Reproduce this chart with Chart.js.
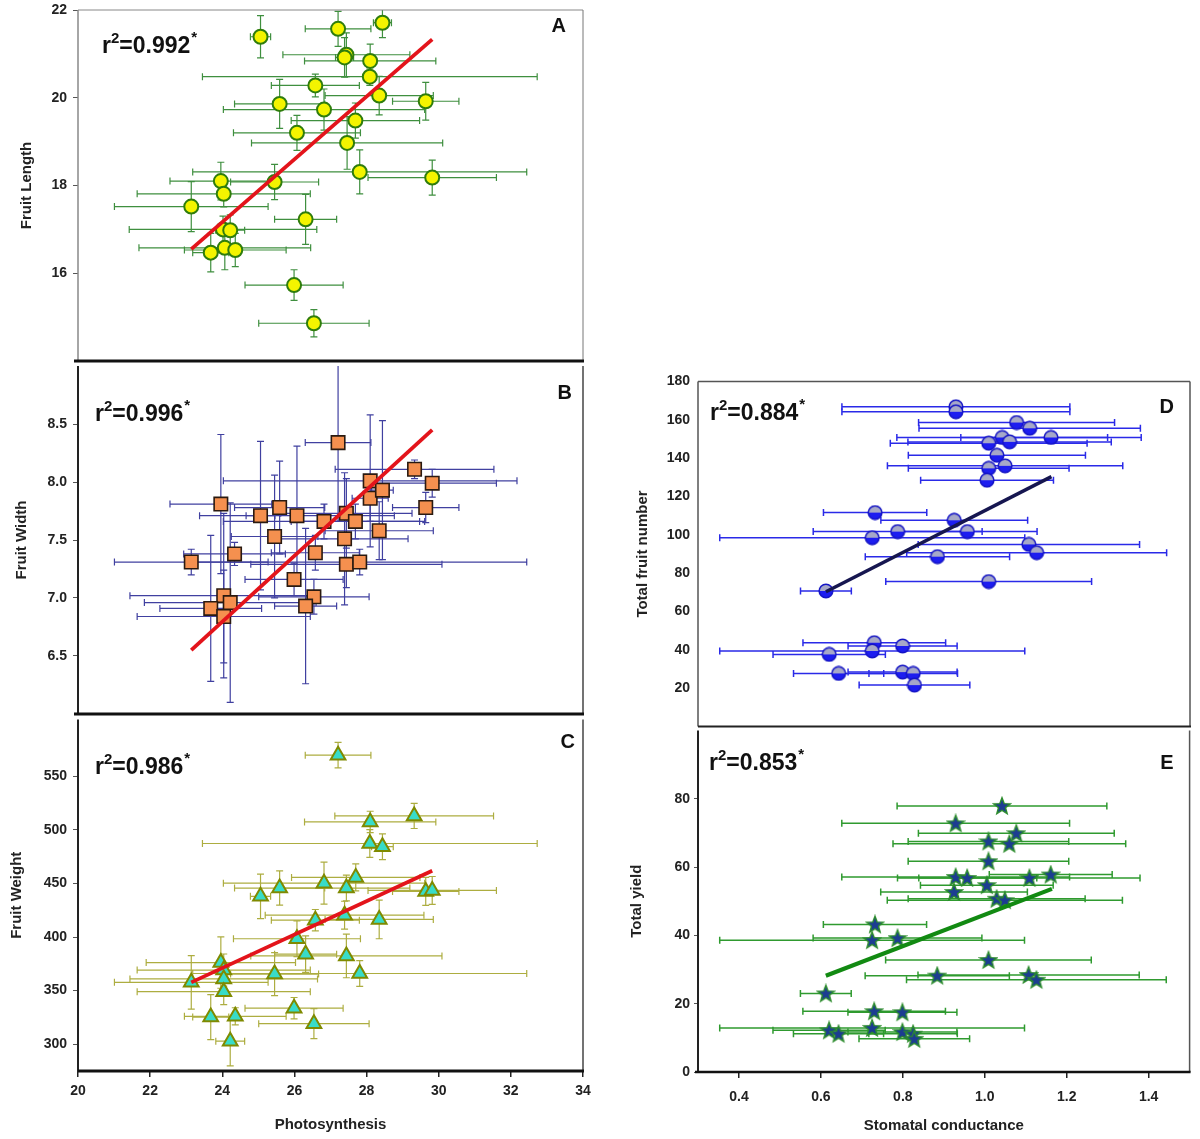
<!DOCTYPE html>
<html>
<head>
<meta charset="utf-8">
<title>Fruit traits vs photosynthesis and stomatal conductance</title>
<script src="https://cdn.jsdelivr.net/npm/chart.js@4.4.1/dist/chart.umd.min.js"></script>
<style>
    html, body { margin: 0; padding: 0; background: #fff; }
    #page { position: relative; width: 1200px; height: 1139px; overflow: hidden; }
    #page canvas { position: absolute; }
</style>
</head>
<body>
<div id="page">
    <canvas id="chartA" width="600" height="370" style="left:0;top:0"></canvas>
    <canvas id="chartB" width="600" height="370" style="left:0;top:355px"></canvas>
    <canvas id="chartC" width="600" height="430" style="left:0;top:709px"></canvas>
    <canvas id="chartD" width="600" height="362" style="left:600px;top:373px"></canvas>
    <canvas id="chartE" width="600" height="419" style="left:600px;top:720px"></canvas>
</div>
<script>
// ---- Data ----

// A: fruit length vs photosynthesis
const aPhoto     = [25.06, 27.21, 28.44, 27.44, 27.39, 28.10, 28.09, 26.58, 28.35, 29.64, 25.59, 26.82, 27.69, 26.07, 27.46, 27.81, 29.82, 23.96, 25.45, 24.04, 23.14, 26.31, 24.02, 24.22, 24.07, 23.68, 24.36, 25.99, 26.54];
const aLength    = [21.39, 21.57, 21.71, 20.98, 20.92, 20.84, 20.48, 20.28, 20.05, 19.92, 19.86, 19.73, 19.48, 19.20, 18.97, 18.31, 18.18, 18.10, 18.08, 17.81, 17.52, 17.23, 17.00, 16.98, 16.58, 16.47, 16.53, 15.73, 14.86];
const aPhotoErr  = [0.28, 0.91, 0.25, 1.76, 0.25, 1.82, 4.64, 1.22, 1.50, 0.92, 1.25, 2.79, 1.78, 1.76, 2.65, 4.63, 1.78, 1.41, 1.22, 2.40, 2.13, 0.86, 2.60, 0.40, 2.38, 0.50, 1.41, 1.36, 1.53];
const aLengthErr = [0.48, 0.40, 0.34, 0.50, 0.45, 0.38, 0.20, 0.26, 0.44, 0.43, 0.56, 0.47, 0.40, 0.40, 0.60, 0.50, 0.40, 0.43, 0.40, 0.30, 0.57, 0.57, 0.30, 0.35, 0.50, 0.44, 0.38, 0.35, 0.31];
const aFitX = [23.14, 29.82];
const aFitY = [16.55, 21.33];

// B: fruit width vs photosynthesis
const bPhoto    = [27.21, 23.96, 25.06, 25.59, 26.07, 26.82, 27.44, 27.69, 28.10, 28.10, 28.44, 29.33, 29.82, 29.64, 28.35, 25.45, 27.39, 24.34, 26.58, 23.14, 27.44, 27.81, 25.99, 24.04, 24.22, 26.54, 26.31, 23.68, 24.04];
const bWidth    = [8.34, 7.81, 7.71, 7.78, 7.71, 7.66, 7.73, 7.66, 8.01, 7.86, 7.93, 8.11, 7.99, 7.78, 7.58, 7.53, 7.51, 7.38, 7.39, 7.31, 7.29, 7.31, 7.16, 7.02, 6.96, 7.01, 6.93, 6.91, 6.84];
const bPhotoErr = [0.91, 1.41, 0.40, 1.25, 2.70, 2.79, 1.82, 1.78, 4.07, 0.50, 0.30, 2.20, 1.78, 0.92, 1.50, 1.20, 1.76, 1.41, 1.22, 2.13, 2.65, 4.63, 1.36, 2.60, 2.38, 1.53, 0.86, 1.41, 2.40];
const bWidthErr = [0.68, 0.60, 0.64, 0.40, 0.60, 0.15, 0.30, 0.15, 0.57, 0.20, 0.60, 0.08, 0.12, 0.13, 0.25, 0.53, 0.57, 0.10, 0.15, 0.11, 0.20, 0.11, 0.14, 0.71, 0.86, 0.15, 0.67, 0.63, 0.40];
const bFitX = [23.14, 29.82];
const bFitY = [6.55, 8.45];

// C: fruit weight vs photosynthesis
const cPhoto     = [27.21, 29.32, 28.10, 28.09, 28.44, 27.70, 26.82, 25.59, 27.44, 25.06, 29.64, 29.82, 27.39, 26.58, 28.35, 26.07, 26.31, 27.44, 23.96, 24.04, 25.45, 27.81, 23.14, 24.04, 24.04, 25.99, 23.68, 24.36, 26.54, 24.22];
const cWeight    = [569.7, 513.0, 507.4, 487.3, 484.3, 455.6, 450.3, 445.7, 445.7, 438.0, 442.6, 443.5, 420.4, 415.7, 416.4, 398.4, 384.0, 382.4, 376.2, 369.2, 365.4, 366.0, 357.7, 360.9, 349.0, 333.6, 325.3, 326.0, 319.2, 302.8];
const cPhotoErr  = [0.91, 2.20, 1.82, 4.64, 0.30, 1.78, 2.79, 1.25, 1.76, 0.28, 0.92, 1.78, 2.20, 1.22, 1.50, 1.76, 0.86, 2.65, 2.07, 2.40, 1.22, 4.63, 2.13, 2.60, 2.40, 1.36, 0.50, 1.41, 1.53, 0.40];
const cWeightErr = [11.9, 11.7, 10.0, 13.0, 12.0, 12.6, 19.6, 16.0, 12.0, 20.8, 13.0, 13.0, 13.0, 10.0, 18.0, 16.7, 17.0, 20.4, 24.0, 15.0, 20.0, 12.0, 25.0, 12.0, 12.0, 10.0, 21.0, 8.0, 14.0, 23.0];
const cFitX = [23.14, 29.82];
const cFitY = [357.7, 461.8];

// D: total fruit number vs stomatal conductance
const dStomata    = [0.929, 0.929, 1.077, 1.109, 1.161, 1.042, 1.060, 1.009, 1.029, 1.049, 1.009, 1.005, 0.732, 0.925, 0.787, 0.957, 0.725, 1.107, 1.126, 0.884, 1.009, 0.612, 0.730, 0.799, 0.725, 0.620, 0.643, 0.799, 0.825, 0.828];
const dFruitNo    = [166.8, 164.2, 158.6, 155.6, 150.8, 150.8, 148.5, 147.8, 141.5, 136.0, 134.7, 128.5, 111.6, 107.6, 101.7, 101.7, 98.5, 95.0, 90.7, 88.6, 75.6, 70.7, 43.7, 42.0, 39.4, 37.6, 27.7, 28.4, 27.7, 21.6];
const dStomataErr = [0.278, 0.278, 0.239, 0.270, 0.220, 0.257, 0.248, 0.240, 0.216, 0.287, 0.196, 0.162, 0.126, 0.179, 0.206, 0.170, 0.372, 0.270, 0.317, 0.176, 0.251, 0.062, 0.174, 0.133, 0.372, 0.137, 0.110, 0.133, 0.108, 0.135];
const dFitX = [0.612, 1.162];
const dFitY = [70.3, 130.4];

// E: total yield vs stomatal conductance
const eStomata    = [1.042, 0.929, 1.077, 1.009, 1.060, 1.009, 0.929, 0.957, 1.109, 1.161, 1.005, 0.925, 1.029, 1.049, 0.732, 0.725, 0.787, 1.009, 0.884, 1.107, 1.126, 0.612, 0.730, 0.799, 0.725, 0.620, 0.643, 0.799, 0.825, 0.828];
const eYield      = [77.9, 72.8, 69.9, 67.5, 66.8, 61.7, 57.1, 56.8, 56.8, 57.8, 54.7, 52.7, 50.7, 50.3, 43.2, 38.6, 39.2, 32.8, 28.2, 28.4, 27.0, 23.0, 17.8, 17.5, 12.9, 12.2, 11.2, 11.7, 11.2, 9.7];
const eStomataErr = [0.256, 0.278, 0.239, 0.196, 0.284, 0.196, 0.278, 0.170, 0.270, 0.150, 0.162, 0.179, 0.216, 0.287, 0.126, 0.372, 0.206, 0.251, 0.176, 0.270, 0.317, 0.062, 0.174, 0.133, 0.372, 0.137, 0.110, 0.133, 0.108, 0.135];
const eFitX = [0.612, 1.164];
const eFitY = [28.2, 53.6];

// Tick labels
const photoTicks   = [20, 22, 24, 26, 28, 30, 32, 34];
const stomataTicks = [0.4, 0.6, 0.8, 1.0, 1.2, 1.4];
const lengthTicks  = [16, 18, 20, 22];
const widthTicks   = [6.5, 7.0, 7.5, 8.0, 8.5];
const weightTicks  = [300, 350, 400, 450, 500, 550];
const fruitNoTicks = [20, 40, 60, 80, 100, 120, 140, 160, 180];
const yieldTicks   = [0, 20, 40, 60, 80];

const FONT = '"Liberation Sans", Arial, Helvetica, sans-serif';
Chart.defaults.font.family = FONT;

const toPoints = (xs, ys) => xs.map((x, i) => ({ x, y: ys[i] }));

// Error bars are drawn under the markers, clipped to the plot box
const errorBars = {
    id: 'errorBars',
    beforeDatasetsDraw(chart) {
        const { ctx, chartArea: a, scales: { x, y } } = chart;
        const cap = 3.5;
        ctx.save();
        ctx.beginPath();
        ctx.rect(a.left, a.top, a.right - a.left, a.bottom - a.top);
        ctx.clip();
        chart.data.datasets.forEach(ds => {
            if (!ds.errX) return;
            ctx.strokeStyle = ds.errColor;
            ctx.lineWidth = ds.errWidth;
            ds.data.forEach((p, i) => {
                const px = x.getPixelForValue(p.x);
                const py = y.getPixelForValue(p.y);
                const ex = ds.errX[i] || 0;
                const ey = ds.errY ? ds.errY[i] || 0 : 0;
                ctx.beginPath();
                if (ex) {
                    const x0 = x.getPixelForValue(p.x - ex), x1 = x.getPixelForValue(p.x + ex);
                    ctx.moveTo(x0, py); ctx.lineTo(x1, py);
                    ctx.moveTo(x0, py - cap); ctx.lineTo(x0, py + cap);
                    ctx.moveTo(x1, py - cap); ctx.lineTo(x1, py + cap);
                }
                if (ey) {
                    const y0 = y.getPixelForValue(p.y - ey), y1 = y.getPixelForValue(p.y + ey);
                    ctx.moveTo(px, y0); ctx.lineTo(px, y1);
                    ctx.moveTo(px - cap, y0); ctx.lineTo(px + cap, y0);
                    ctx.moveTo(px - cap, y1); ctx.lineTo(px + cap, y1);
                }
                ctx.stroke();
            });
        });
        ctx.restore();
    }
};

// Plot box edges: thin grey frame, heavy black separators / axes
const frame = {
    id: 'frame',
    afterDraw(chart, args, o) {
        const { ctx, chartArea: a } = chart;
        const line = (side, x0, y0, x1, y1) => {
            if (!side) return;
            ctx.beginPath();
            ctx.lineWidth = side[0];
            ctx.strokeStyle = side[1];
            ctx.moveTo(x0, y0);
            ctx.lineTo(x1, y1);
            ctx.stroke();
        };
        ctx.save();
        line(o.top, a.left, a.top, a.right, a.top);
        line(o.right, a.right, a.top, a.right, a.bottom);
        line(o.left, a.left, a.top, a.left, a.bottom);
        line(o.bottom, a.left - (o.overhang || 0), a.bottom, a.right + 1, a.bottom);
        ctx.restore();
    }
};

// r² label and panel letter
const panelText = {
    id: 'panelText',
    afterDraw(chart, args, o) {
        const { ctx, chartArea: a } = chart;
        ctx.save();
        ctx.fillStyle = '#111';
        ctx.textBaseline = 'alphabetic';
        let x = a.left + o.dx;
        const y = a.top + o.dy;
        ctx.font = 'bold 23px ' + FONT;
        ctx.fillText('r', x, y);
        x += ctx.measureText('r').width;
        ctx.font = 'bold 15px ' + FONT;
        ctx.fillText('2', x, y - 10);
        x += ctx.measureText('2').width;
        ctx.font = 'bold 23px ' + FONT;
        const txt = '=' + o.r2;
        ctx.fillText(txt, x, y);
        x += ctx.measureText(txt).width;
        ctx.font = 'bold 15px ' + FONT;
        ctx.fillText('*', x + 1, y - 11);
        ctx.font = 'bold 20px ' + FONT;
        ctx.textAlign = 'right';
        ctx.fillText(o.letter, a.right - o.lx, a.top + o.ly);
        ctx.restore();
    }
};

// Custom markers for D (half shaded circle) and E (filled star)
function halfCircle() {
    const c = document.createElement('canvas');
    c.width = c.height = 16;
    const g = c.getContext('2d');
    g.beginPath(); g.arc(8, 8, 6.8, 0, Math.PI * 2);
    g.fillStyle = '#1d1df0'; g.fill();
    g.beginPath(); g.arc(8, 8, 6.8, Math.PI, 0); g.closePath();
    g.fillStyle = '#a6a8c8'; g.fill();
    g.beginPath(); g.arc(8, 8, 6.8, 0, Math.PI * 2);
    g.lineWidth = 1.5; g.strokeStyle = '#1414c4'; g.stroke();
    return c;
}

function star() {
    const c = document.createElement('canvas');
    c.width = c.height = 20;
    const g = c.getContext('2d');
    g.beginPath();
    for (let i = 0; i < 10; i++) {
        const r = i % 2 ? 3.7 : 8.8;
        const ang = -Math.PI / 2 + i * Math.PI / 5;
        g.lineTo(10 + r * Math.cos(ang), 10.6 + r * Math.sin(ang));
    }
    g.closePath();
    g.fillStyle = '#1c3c92'; g.fill();
    g.lineWidth = 1.4; g.strokeStyle = '#2c8c2c'; g.stroke();
    return c;
}

function makePanel(id, p) {
    const tickFont = { size: 14, weight: 'bold' };
    const titleFont = { size: 15, weight: 'bold' };
    return new Chart(document.getElementById(id), {
        type: 'scatter',
        data: {
            datasets: [
                {
                    type: 'line',
                    data: toPoints(p.fitX, p.fitY),
                    borderColor: p.fitColor,
                    borderWidth: p.fitWidth,
                    pointRadius: 0,
                    fill: false
                },
                {
                    data: toPoints(p.x, p.y),
                    errX: p.xErr,
                    errY: p.yErr,
                    errColor: p.errColor,
                    errWidth: p.errWidth,
                    pointStyle: p.pointStyle,
                    pointRadius: p.radius,
                    backgroundColor: p.fill,
                    borderColor: p.stroke,
                    borderWidth: p.strokeWidth
                }
            ]
        },
        options: {
            responsive: false,
            animation: false,
            layout: { padding: p.padding },
            plugins: {
                legend: { display: false },
                tooltip: { enabled: false },
                frame: p.frame,
                panelText: p.text
            },
            scales: {
                x: {
                    type: 'linear',
                    min: p.xMin,
                    max: p.xMax,
                    display: p.showX,
                    afterBuildTicks: s => { s.ticks = p.xTicks.map(v => ({ value: v })); },
                    // fixed box size, and no label overhang pushing the plot box around
                    afterFit: s => {
                        s.height = p.showX ? p.xHeight : 0;
                        s.paddingLeft = 0;
                        s.paddingRight = 0;
                    },
                    grid: { drawOnChartArea: false, tickLength: 6, color: '#222', lineWidth: 1.5 },
                    border: { display: false },
                    ticks: { font: tickFont, color: '#222', padding: p.xPad, maxRotation: 0, callback: p.xFmt },
                    title: { display: true, text: p.xTitle, font: titleFont, color: '#222', padding: { top: 0, bottom: p.xTitlePad } }
                },
                y: {
                    type: 'linear',
                    min: p.yMin,
                    max: p.yMax,
                    afterBuildTicks: s => { s.ticks = p.yTicks.map(v => ({ value: v })); },
                    afterFit: s => {
                        s.width = p.yWidth;
                        s.paddingTop = 0;
                        s.paddingBottom = 0;
                    },
                    grid: { drawOnChartArea: false, drawTicks: p.yTickLen > 0, tickLength: p.yTickLen, color: '#555' },
                    border: { display: false },
                    ticks: { font: tickFont, color: '#222', padding: p.yPad, callback: p.yFmt },
                    title: { display: true, text: p.yTitle, font: titleFont, color: '#222', padding: { top: p.yTitlePad, bottom: 0 } }
                }
            }
        },
        plugins: [errorBars, frame, panelText]
    });
}

const int = v => String(v);
const oneDec = v => v.toFixed(1);

const photoAxis = { xMin: 20, xMax: 34, xTicks: photoTicks, xFmt: int, xTitle: 'Photosynthesis', xPad: 6, xTitlePad: 5, yWidth: 78, yTickLen: 5, yPad: 6 };
const stomaAxis = { xMin: 0.3, xMax: 1.5, xTicks: stomataTicks, xFmt: oneDec, xTitle: 'Stomatal conductance', xPad: 11, xTitlePad: 4, yWidth: 98 };
const redFit = { fitColor: '#e3141b', fitWidth: 3.8 };

makePanel('chartA', Object.assign({}, photoAxis, redFit, {
    x: aPhoto, y: aLength, xErr: aPhotoErr, yErr: aLengthErr, fitX: aFitX, fitY: aFitY,
    yMin: 14, yMax: 22, yTicks: lengthTicks, yFmt: int, yTitle: 'Fruit Length', yTitlePad: 18,
    showX: false, padding: { top: 10, right: 17, bottom: 8, left: 0 },
    pointStyle: 'circle', radius: 7, fill: '#f4f400', stroke: '#2f7d0c', strokeWidth: 2,
    errColor: '#3f8f3f', errWidth: 1.2,
    frame: { top: [1, '#888'], right: [1, '#777'], left: [1.5, '#888'], bottom: [3, '#111'], overhang: 4 },
    text: { r2: '0.992', letter: 'A', dx: 24, dy: 43, lx: 17, ly: 22 }
}));

makePanel('chartB', Object.assign({}, photoAxis, redFit, {
    x: bPhoto, y: bWidth, xErr: bPhotoErr, yErr: bWidthErr, fitX: bFitX, fitY: bFitY,
    yMin: 6, yMax: 9, yTicks: widthTicks, yFmt: oneDec, yTitle: 'Fruit Width', yTitlePad: 13,
    showX: false, padding: { top: 8, right: 17, bottom: 8, left: 0 },
    pointStyle: 'rect', radius: 9.5, fill: '#f5904f', stroke: '#2a1a10', strokeWidth: 1.6,
    errColor: '#4040a0', errWidth: 1.2,
    frame: { right: [1.5, '#444'], left: [2, '#222'], bottom: [3, '#111'], overhang: 4 },
    text: { r2: '0.996', letter: 'B', dx: 17, dy: 55, lx: 11, ly: 33 }
}));

makePanel('chartC', Object.assign({}, photoAxis, redFit, {
    x: cPhoto, y: cWeight, xErr: cPhotoErr, yErr: cWeightErr, fitX: cFitX, fitY: cFitY,
    yMin: 275, yMax: 603, yTicks: weightTicks, yFmt: int, yTitle: 'Fruit Weight', yTitlePad: 8,
    showX: true, xHeight: 68, padding: { top: 8, right: 17, bottom: 0, left: 0 },
    pointStyle: 'triangle', radius: 8.5, fill: '#38dcc8', stroke: '#7f8a00', strokeWidth: 2,
    errColor: '#adad40', errWidth: 1.2,
    frame: { right: [1.5, '#444'], left: [2, '#222'], bottom: [3, '#111'], overhang: 0 },
    text: { r2: '0.986', letter: 'C', dx: 17, dy: 54, lx: 8, ly: 28 }
}));

makePanel('chartD', Object.assign({}, stomaAxis, {
    x: dStomata, y: dFruitNo, xErr: dStomataErr, yErr: null, fitX: dFitX, fitY: dFitY,
    fitColor: '#161650', fitWidth: 3.5,
    yMin: 0, yMax: 180, yTicks: fruitNoTicks, yFmt: int, yTitle: 'Total fruit number', yTitlePad: 34,
    yTickLen: 0, yPad: 8,
    showX: false, padding: { top: 8, right: 10, bottom: 8, left: 0 },
    pointStyle: halfCircle(), radius: 7, fill: '#1d1df0', stroke: '#1414c4', strokeWidth: 1.5,
    errColor: '#2a2ae8', errWidth: 1.5,
    frame: { top: [1.5, '#555'], right: [1.5, '#555'], left: [1.5, '#555'], bottom: [2, '#222'], overhang: 0 },
    text: { r2: '0.884', letter: 'D', dx: 12, dy: 38, lx: 16, ly: 31 }
}));

makePanel('chartE', Object.assign({}, stomaAxis, {
    x: eStomata, y: eYield, xErr: eStomataErr, yErr: null, fitX: eFitX, fitY: eFitY,
    fitColor: '#128a12', fitWidth: 4.2,
    yMin: 0, yMax: 100, yTicks: yieldTicks, yFmt: int, yTitle: 'Total yield', yTitlePad: 28,
    yTickLen: 4, yPad: 4,
    showX: true, xHeight: 67, padding: { top: 8, right: 10, bottom: 0, left: 0 },
    pointStyle: star(), radius: 9, fill: '#1c3c92', stroke: '#2c8c2c', strokeWidth: 1.4,
    errColor: '#2f9a2f', errWidth: 1.5,
    frame: { right: [1.5, '#555'], left: [2, '#222'], bottom: [2.5, '#111'], overhang: 3 },
    text: { r2: '0.853', letter: 'E', dx: 11, dy: 40, lx: 16, ly: 39 }
}));
</script>
</body>
</html>
